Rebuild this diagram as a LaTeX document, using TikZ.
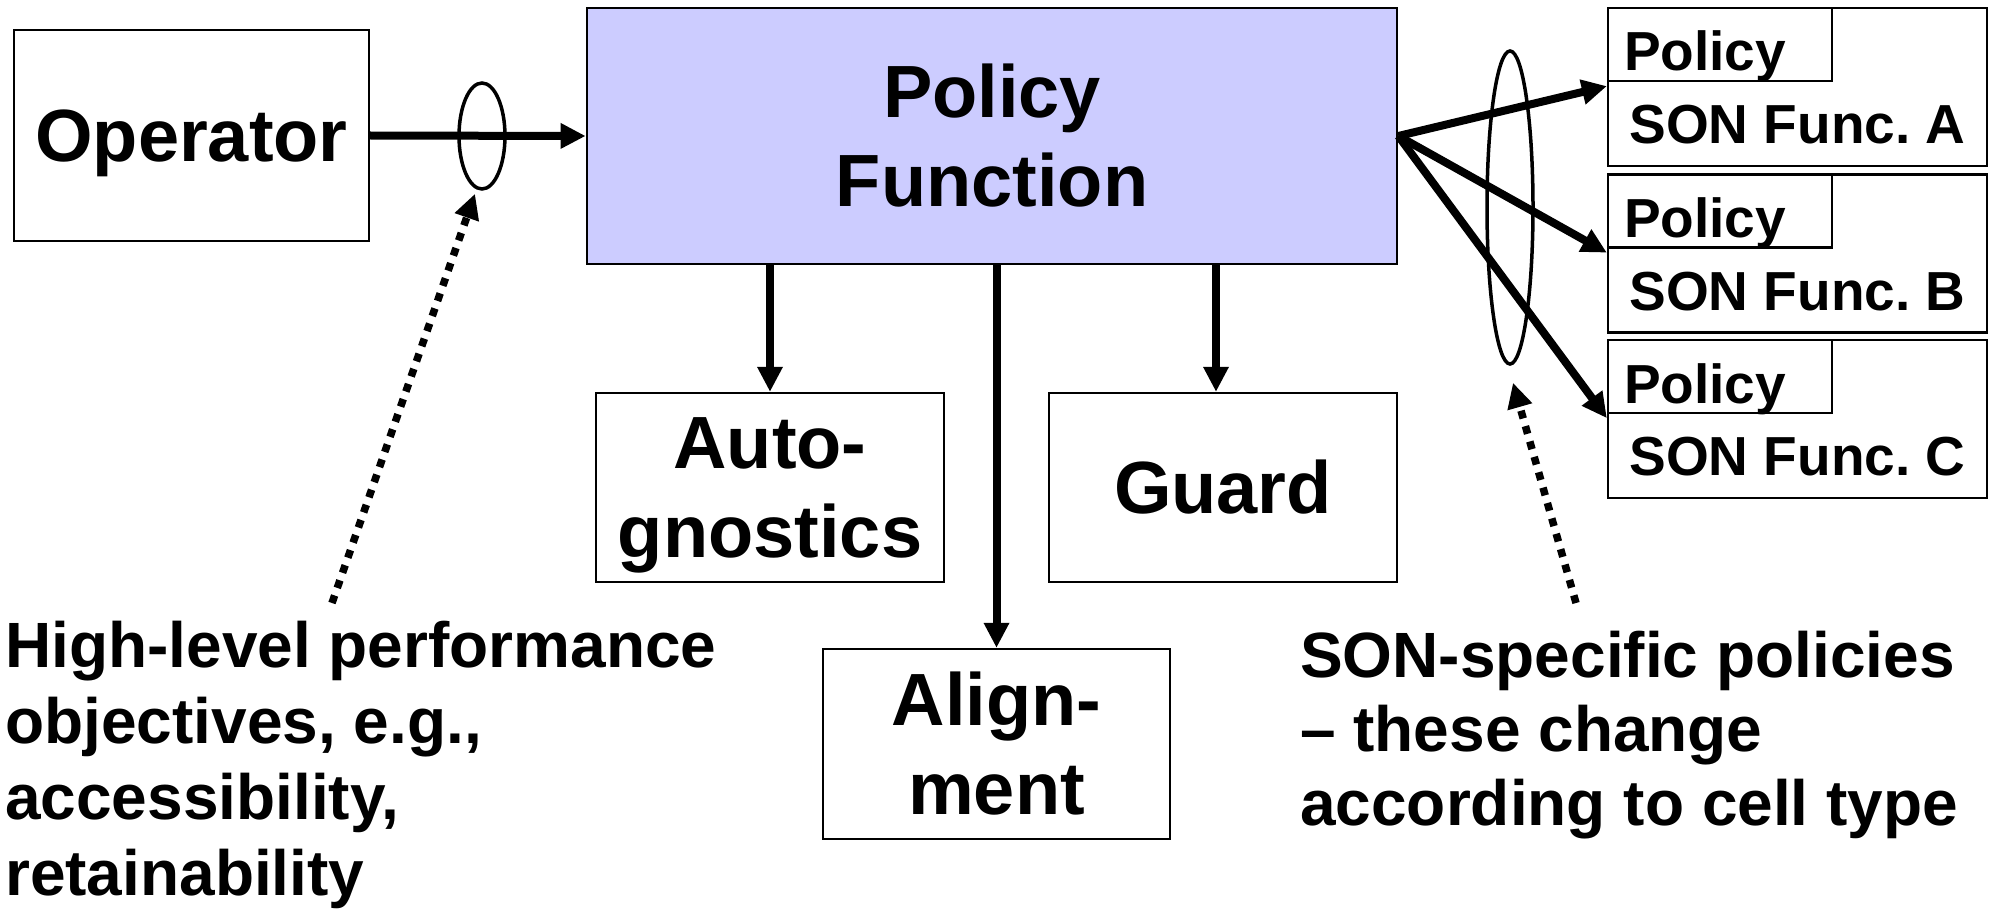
\documentclass[tikz,border=0pt]{standalone}
\usepackage{fontspec}
\setmainfont{Liberation Sans}
\usetikzlibrary{arrows.meta,shapes.geometric,calc}
\definecolor{pfblue}{HTML}{CCCCFF}

\begin{document}
\begin{tikzpicture}[x=1pt,y=-1pt,
  box/.style={draw=black, line width=2.3pt, rectangle, inner sep=0pt,
    font=\fontsize{74}{89}\selectfont\bfseries, align=center},
  sonbox/.style={draw=black, line width=2.3pt, rectangle, inner sep=0pt,
    minimum width=379pt, minimum height=158pt},
  tabbox/.style={draw=black, line width=2.3pt, rectangle, inner ysep=0pt, inner xsep=16pt,
    minimum width=224pt, minimum height=73pt, text width=192pt, align=left,
    text height=53pt, text depth=0pt, font=\fontsize{55}{66}\selectfont\bfseries},
  fntext/.style={inner sep=0pt, font=\fontsize{55}{66}\selectfont\bfseries},
  note/.style={inner sep=0pt, align=left},
  loop/.style={ellipse, draw=black, line width=3.5pt, inner sep=0pt, minimum width=46pt},
  arr/.style={line width=8pt, -{Triangle[length=25pt,width=24pt]}},
  dotarr/.style={line width=7.5pt, dash pattern=on 8pt off 8pt,
    -{Triangle[length=25pt,width=24pt]}}
]
\useasboundingbox (0,0) rectangle (1989,912);

% main blocks
\node[box, minimum width=355pt, minimum height=211pt, text depth=0pt] (op) at (191.5,135.5) {Operator};
\node[box, fill=pfblue, line width=2.7pt, minimum width=810pt, minimum height=256pt] (pf) at (992,136) {Policy\\Function};
\node[box, minimum width=348pt, minimum height=189pt, text depth=0pt] (auto) at (770,487.5) {Auto-\\gnostics};
\node[box, minimum width=348pt, minimum height=189pt] (guard) at (1223,487.5) {Guard};
\node[box, minimum width=347pt, minimum height=190pt] (align) at (996.5,744) {Align-\\ment};

% operator input
\draw[arr] (op.east) -- (pf.west);
\node[loop, minimum height=106pt] (e1) at (482,136) {};

% outputs below the policy function
\draw[arr] (pf.south -| auto.north) -- (auto.north);
\draw[arr] (pf.south -| align.north) -- (align.north);
\draw[arr] ([xshift=-7pt]pf.south -| guard.north) -- ([xshift=-7pt]guard.north);

% SON function blocks with their policy tabs
\foreach \L/\t in {A/8,B/174.5,C/340}{
  \node[sonbox] (son\L) at ({1797.5},{\t+79}) {};
  \node[tabbox, anchor=north west] (pol\L) at (son\L.north west) {Policy};
  \node[fntext, anchor=base] (fn\L) at ([yshift=-137pt]son\L.north) {SON Func.\ \L};
  \draw[arr] (pf.east) -- ([yshift=-4pt]pol\L.south west);
}
\node[loop, minimum height=313pt] (e2) at (1510,207.5) {};

% annotations
\node[note, anchor=north west, font=\fontsize{64}{76}\selectfont\bfseries] (objtext) at (5,621)
  {High-level performance\\objectives, e.g.,\\accessibility,\\retainability};
\node[note, anchor=north west, font=\fontsize{64}{74}\selectfont\bfseries] (sontext) at (1300,631)
  {SON-specific policies\\\textendash{} these change\\according to cell type};

\coordinate (d1) at (332,603);
\coordinate (d2) at (1576,603);
\draw[dotarr] (d1) -- ([xshift=-7pt,yshift=-3pt]e1.south);
\draw[dotarr] (d2) -- ([xshift=3pt,yshift=-17pt]e2.south);
\end{tikzpicture}
\end{document}
